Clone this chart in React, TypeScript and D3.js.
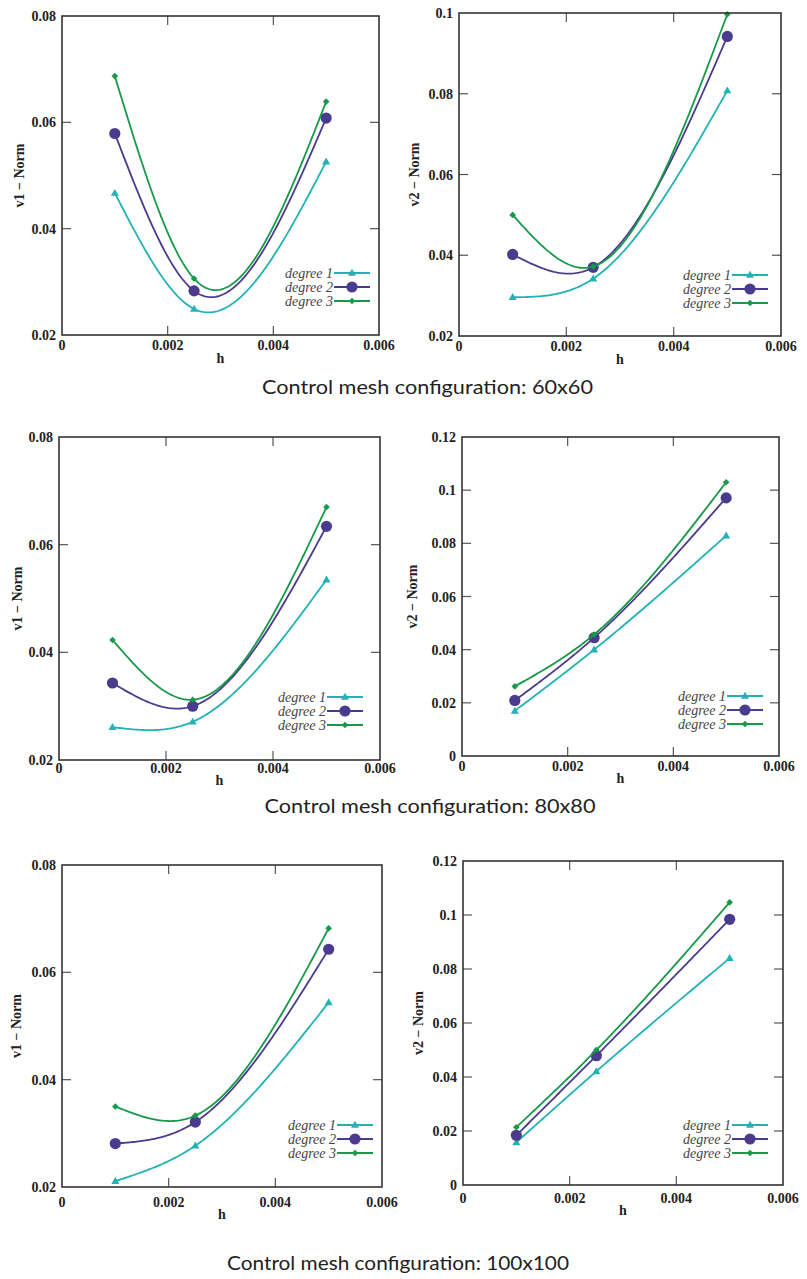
import React from "react";
import * as d3 from "d3";

// ---------- data ----------
const hValues = [0.001, 0.0025, 0.005];
const xTickValues = [0, 0.002, 0.004, 0.006];
const xTickLabels = ["0", "0.002", "0.004", "0.006"];
const seriesNames = ["degree 1", "degree 2", "degree 3"];

// each list: [degree 1, degree 2, degree 3] values at hValues
const v1Mesh60 = [
  [0.0467, 0.0249, 0.0526],
  [0.0579, 0.0283, 0.0608],
  [0.0687, 0.0306, 0.0639],
];
const v2Mesh60 = [
  [0.0296, 0.0342, 0.0808],
  [0.0402, 0.037, 0.0942],
  [0.05, 0.0372, 0.0997],
];
const v1Mesh80 = [
  [0.0261, 0.0271, 0.0535],
  [0.0343, 0.03, 0.0634],
  [0.0423, 0.0312, 0.067],
];
const v2Mesh80 = [
  [0.017, 0.04, 0.0829],
  [0.0209, 0.0445, 0.0971],
  [0.0262, 0.0457, 0.103],
];
const v1Mesh100 = [
  [0.0211, 0.0277, 0.0544],
  [0.0281, 0.0321, 0.0643],
  [0.035, 0.0333, 0.0682],
];
const v2Mesh100 = [
  [0.0158, 0.0421, 0.084],
  [0.0184, 0.0479, 0.0984],
  [0.0214, 0.05, 0.1047],
];

const v1TickValues = [0.02, 0.04, 0.06, 0.08];
const v1TickLabels = ["0.02", "0.04", "0.06", "0.08"];
const v2TickValuesTop = [0.02, 0.04, 0.06, 0.08, 0.1];
const v2TickLabelsTop = ["0.02", "0.04", "0.06", "0.08", "0.1"];
const v2TickValues = [0, 0.02, 0.04, 0.06, 0.08, 0.1, 0.12];
const v2TickLabels = ["0", "0.02", "0.04", "0.06", "0.08", "0.1", "0.12"];

const captions = [
  "Control mesh configuration: 60x60",
  "Control mesh configuration: 80x80",
  "Control mesh configuration: 100x100",
];

// ---------- style ----------
const colors = ["#22b2b4", "#4a3b8e", "#17994a"];
const serif = "'Liberation Serif', 'DejaVu Serif', serif";

// natural cubic spline y(x) (gnuplot csplines look)
function naturalSpline(xs: number[], ys: number[]) {
  const n = xs.length;
  const h: number[] = [];
  for (let i = 0; i < n - 1; i++) h.push(xs[i + 1] - xs[i]);
  const M = new Array(n).fill(0);
  if (n > 2) {
    const a: number[] = [], b: number[] = [], c: number[] = [], r: number[] = [];
    for (let i = 1; i < n - 1; i++) {
      a.push(h[i - 1]);
      b.push(2 * (h[i - 1] + h[i]));
      c.push(h[i]);
      r.push(6 * ((ys[i + 1] - ys[i]) / h[i] - (ys[i] - ys[i - 1]) / h[i - 1]));
    }
    const m = b.length;
    for (let i = 1; i < m; i++) {
      const w = a[i] / b[i - 1];
      b[i] -= w * c[i - 1];
      r[i] -= w * r[i - 1];
    }
    const sol = new Array(m).fill(0);
    sol[m - 1] = r[m - 1] / b[m - 1];
    for (let i = m - 2; i >= 0; i--) sol[i] = (r[i] - c[i] * sol[i + 1]) / b[i];
    for (let i = 0; i < m; i++) M[i + 1] = sol[i];
  }
  return (x: number) => {
    let i = 0;
    while (i < n - 2 && x > xs[i + 1]) i++;
    const hi = h[i];
    const t1 = xs[i + 1] - x;
    const t0 = x - xs[i];
    return (
      (M[i] * t1 * t1 * t1) / (6 * hi) +
      (M[i + 1] * t0 * t0 * t0) / (6 * hi) +
      (ys[i] / hi - (M[i] * hi) / 6) * t1 +
      (ys[i + 1] / hi - (M[i + 1] * hi) / 6) * t0
    );
  };
}

type PanelProps = {
  left: number;
  right: number;
  top: number;
  bottom: number;
  yDomain: [number, number];
  yTicks: number[];
  yTickLabels: string[];
  series: number[][];
  yLabel: string;
  yLabelX: number;
  tickDy: number;
  hDy: number;
  legendEnd: number;
  legendTop: number;
};

function Marker({ kind, x, y, color }: { kind: number; x: number; y: number; color: string }) {
  if (kind === 1) return <circle cx={x} cy={y} r={5.6} fill={color} />;
  if (kind === 0) {
    const sym = d3.symbol(d3.symbolTriangle, 28);
    return <path d={sym() || ""} transform={`translate(${x},${y + 0.5})`} fill={color} />;
  }
  const sq = d3.symbol(d3.symbolSquare, 22);
  return <path d={sq() || ""} transform={`translate(${x},${y}) rotate(45)`} fill={color} />;
}

function Panel(p: PanelProps) {
  const x = d3.scaleLinear().domain([0, 0.006]).range([p.left, p.right]);
  const y = d3.scaleLinear().domain(p.yDomain).range([p.bottom, p.top]);
  const tickLen = 9;
  const line = d3
    .line<[number, number]>()
    .x((d) => x(d[0]))
    .y((d) => y(d[1]));
  const xMin = hValues[0];
  const xMax = hValues[hValues.length - 1];
  const samples = d3.range(0, 121).map((i) => xMin + ((xMax - xMin) * i) / 120);
  const cx = (p.left + p.right) / 2;
  const cy = (p.top + p.bottom) / 2;
  return (
    <g>
      {/* ticks */}
      {xTickValues.map((v, i) => (
        <g key={"xt" + i}>
          {i > 0 && i < xTickValues.length - 1 && (
            <>
              <line x1={x(v)} x2={x(v)} y1={p.bottom} y2={p.bottom - tickLen} stroke="#555" strokeWidth={1.2} />
              <line x1={x(v)} x2={x(v)} y1={p.top} y2={p.top + tickLen} stroke="#555" strokeWidth={1.2} />
            </>
          )}
          <text
            x={x(v)}
            y={p.bottom + p.tickDy}
            textAnchor="middle"
            fontFamily={serif}
            fontWeight="bold"
            fontSize={14}
            fill="#222"
          >
            {xTickLabels[i]}
          </text>
        </g>
      ))}
      {p.yTicks.map((v, i) => (
        <g key={"yt" + i}>
          {i > 0 && i < p.yTicks.length - 1 && (
            <>
              <line x1={p.left} x2={p.left + tickLen} y1={y(v)} y2={y(v)} stroke="#555" strokeWidth={1.2} />
              <line x1={p.right} x2={p.right - tickLen} y1={y(v)} y2={y(v)} stroke="#555" strokeWidth={1.2} />
            </>
          )}
          <text
            x={p.left - 6}
            y={y(v) + 5}
            textAnchor="end"
            fontFamily={serif}
            fontWeight="bold"
            fontSize={14}
            fill="#222"
          >
            {p.yTickLabels[i]}
          </text>
        </g>
      ))}
      {/* axis titles */}
      <text x={cx} y={p.bottom + p.hDy} textAnchor="middle" fontFamily={serif} fontWeight="bold" fontSize={14} fill="#222">
        h
      </text>
      <text
        transform={`translate(${p.yLabelX},${cy}) rotate(-90)`}
        textAnchor="middle"
        fontFamily={serif}
        fontWeight="bold"
        fontSize={14}
        fill="#222"
      >
        {p.yLabel}
      </text>
      {/* curves */}
      {p.series.map((vals, k) => {
        const f = naturalSpline(hValues, vals);
        const pts = samples.map((s) => [s, f(s)] as [number, number]);
        return (
          <g key={"s" + k}>
            <path d={line(pts) || ""} fill="none" stroke={colors[k]} strokeWidth={1.8} />
            {vals.map((v, j) => (
              <Marker key={j} kind={k} x={x(hValues[j])} y={y(v)} color={colors[k]} />
            ))}
          </g>
        );
      })}
      {/* legend */}
      {seriesNames.map((name, k) => {
        const ly = p.legendTop + k * 14;
        const sx1 = p.legendEnd;
        const sx0 = sx1 - 36;
        return (
          <g key={"lg" + k}>
            <text
              x={sx0 - 1}
              y={ly + 4.5}
              textAnchor="end"
              fontFamily={serif}
              fontStyle="italic"
              fontSize={14}
              fill="#444"
            >
              {name}
            </text>
            <line x1={sx0} x2={sx1} y1={ly} y2={ly} stroke={colors[k]} strokeWidth={1.8} />
            <Marker kind={k} x={(sx0 + sx1) / 2} y={ly} color={colors[k]} />
          </g>
        );
      })}
      {/* frame */}
      <rect
        x={p.left}
        y={p.top}
        width={p.right - p.left}
        height={p.bottom - p.top}
        fill="none"
        stroke="#333"
        strokeWidth={1.6}
      />
    </g>
  );
}

export default function App() {
  return (
    <svg
      width={807}
      height={1279}
      style={{ position: "absolute", left: 0, top: 0, background: "#fff" }}
    >
      <rect x={0} y={0} width={807} height={1279} fill="#fff" />
      <Panel
        left={62} right={379} top={16} bottom={335}
        yDomain={[0.02, 0.08]} yTicks={v1TickValues} yTickLabels={v1TickLabels}
        series={v1Mesh60} yLabel="v1 − Norm" yLabelX={24}
        tickDy={15} hDy={28} legendEnd={370} legendTop={273}
      />
      <Panel
        left={459} right={781} top={13} bottom={336}
        yDomain={[0.02, 0.1]} yTicks={v2TickValuesTop} yTickLabels={v2TickLabelsTop}
        series={v2Mesh60} yLabel="v2 − Norm" yLabelX={419}
        tickDy={15} hDy={28} legendEnd={768} legendTop={275}
      />
      <Panel
        left={59} right={380} top={437} bottom={760}
        yDomain={[0.02, 0.08]} yTicks={v1TickValues} yTickLabels={v1TickLabels}
        series={v1Mesh80} yLabel="v1 − Norm" yLabelX={22}
        tickDy={13} hDy={25} legendEnd={363} legendTop={697}
      />
      <Panel
        left={462} right={779} top={437} bottom={756}
        yDomain={[0, 0.12]} yTicks={v2TickValues} yTickLabels={v2TickLabels}
        series={v2Mesh80} yLabel="v2 − Norm" yLabelX={417}
        tickDy={15} hDy={27} legendEnd={763} legendTop={696}
      />
      <Panel
        left={62} right={382} top={865} bottom={1187}
        yDomain={[0.02, 0.08]} yTicks={v1TickValues} yTickLabels={v1TickLabels}
        series={v1Mesh100} yLabel="v1 − Norm" yLabelX={21}
        tickDy={20} hDy={32} legendEnd={373} legendTop={1125}
      />
      <Panel
        left={463} right={783} top={861} bottom={1185}
        yDomain={[0, 0.12]} yTicks={v2TickValues} yTickLabels={v2TickLabels}
        series={v2Mesh100} yLabel="v2 − Norm" yLabelX={423}
        tickDy={18} hDy={30} legendEnd={768} legendTop={1125}
      />
      {/* captions */}
      <text x={427.5} y={394} textAnchor="middle" fontFamily="Lato, 'Open Sans', sans-serif" fontSize={20} fill="#222" textLength={331} lengthAdjust="spacingAndGlyphs">
        {captions[0]}
      </text>
      <text x={430} y={813} textAnchor="middle" fontFamily="Lato, 'Open Sans', sans-serif" fontSize={20} fill="#222" textLength={331} lengthAdjust="spacingAndGlyphs">
        {captions[1]}
      </text>
      <text x={398} y={1270} textAnchor="middle" fontFamily="Lato, 'Open Sans', sans-serif" fontSize={20} fill="#222" textLength={342} lengthAdjust="spacingAndGlyphs">
        {captions[2]}
      </text>
    </svg>
  );
}
